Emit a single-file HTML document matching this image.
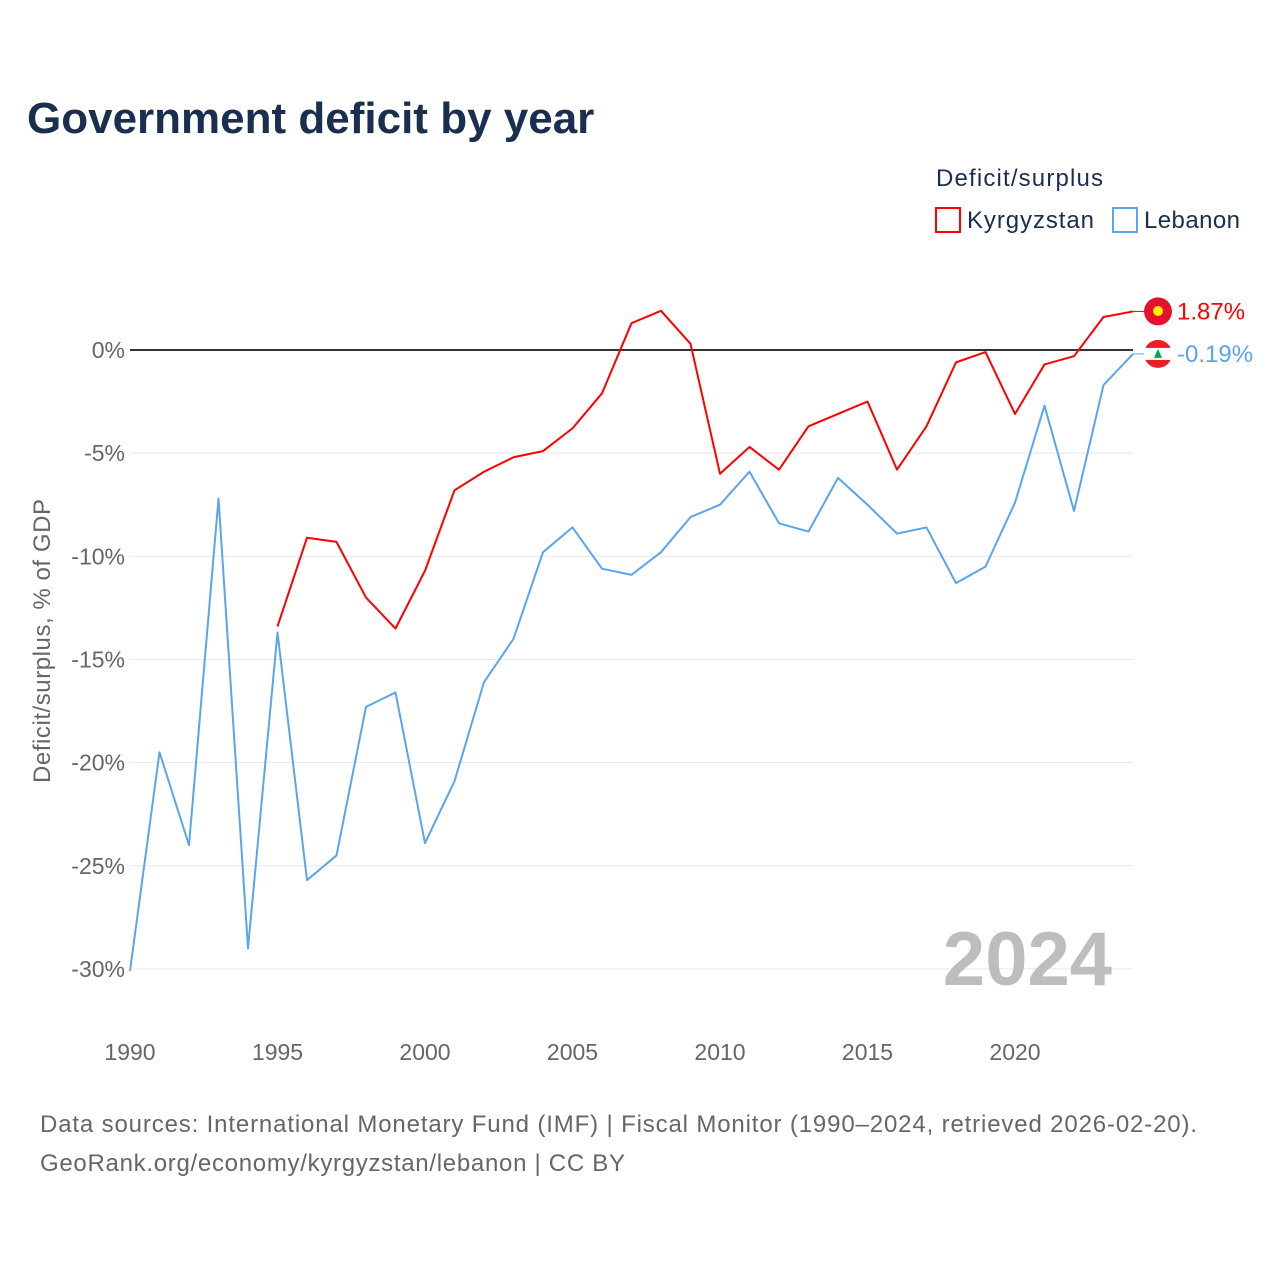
<!DOCTYPE html>
<html><head><meta charset="utf-8"><style>
body{margin:0;background:#fff;font-family:"Liberation Sans",sans-serif}
svg text{font-family:"Liberation Sans",sans-serif}
</style></head><body>
<svg id="chart" width="1280" height="1280" xmlns="http://www.w3.org/2000/svg">
<text x="27" y="133" font-size="44" font-weight="bold" fill="#1a2e4f">Government deficit by year</text>
<text x="936" y="186" font-size="24" fill="#1a2e4f" textLength="167">Deficit/surplus</text>
<g><rect x="936" y="208" width="24" height="24" fill="none" stroke="#f00" stroke-width="2"/><text x="967" y="228" font-size="24" fill="#1a2e4f" textLength="127">Kyrgyzstan</text></g>
<g><rect x="1113" y="208" width="24" height="24" fill="none" stroke="#5aa5ec" stroke-width="2"/><text x="1144" y="228" font-size="24" fill="#1a2e4f" textLength="96">Lebanon</text></g>
<g id="grid"></g>
<g id="series"></g>
<text x="1112" y="985" font-size="76" font-weight="bold" fill="#bdbdbd" text-anchor="end">2024</text>
<text transform="translate(50,641) rotate(-90)" font-size="24" fill="#666" text-anchor="middle" textLength="284">Deficit/surplus, % of GDP</text>
<text x="40" y="1132" font-size="24" fill="#666" textLength="1157">Data sources: International Monetary Fund (IMF) | Fiscal Monitor (1990–2024, retrieved 2026-02-20).</text>
<text x="40" y="1171" font-size="24" fill="#666" textLength="585">GeoRank.org/economy/kyrgyzstan/lebanon | CC BY</text>
</svg>
<script>
const yTicks=[0,-5,-10,-15,-20,-25,-30];
const xTicks=[1990,1995,2000,2005,2010,2015,2020];
const kgYears=[1995,1996,1997,1998,1999,2000,2001,2002,2003,2004,2005,2006,2007,2008,2009,2010,2011,2012,2013,2014,2015,2016,2017,2018,2019,2020,2021,2022,2023,2024];
const kgValues=[-13.4,-9.1,-9.3,-12.0,-13.5,-10.7,-6.8,-5.9,-5.2,-4.9,-3.8,-2.1,1.3,1.9,0.3,-6.0,-4.7,-5.8,-3.7,-3.1,-2.5,-5.8,-3.7,-0.6,-0.1,-3.1,-0.7,-0.3,1.6,1.87];
const lbYears=[1990,1991,1992,1993,1994,1995,1996,1997,1998,1999,2000,2001,2002,2003,2004,2005,2006,2007,2008,2009,2010,2011,2012,2013,2014,2015,2016,2017,2018,2019,2020,2021,2022,2023,2024];
const lbValues=[-30.1,-19.5,-24.0,-7.2,-29.0,-13.7,-25.7,-24.5,-17.3,-16.6,-23.9,-20.9,-16.1,-14.0,-9.8,-8.6,-10.6,-10.9,-9.8,-8.1,-7.5,-5.9,-8.4,-8.8,-6.2,-7.5,-8.9,-8.6,-11.3,-10.5,-7.4,-2.7,-7.8,-1.7,-0.19];
const NS='http://www.w3.org/2000/svg';
const X=y=>130+(y-1990)*29.5;
const Y=v=>350-v*20.63;
function mk(t,a,p){const e=document.createElementNS(NS,t);for(const k in a)e.setAttribute(k,a[k]);p.appendChild(e);return e;}
const g=document.getElementById('grid');
yTicks.forEach(v=>{
 const l=mk('line',{x1:130,x2:1133,y1:Y(v),y2:Y(v),stroke:v===0?'#333':'#e8e8e8','stroke-width':v===0?2:1},g);
 
 
 const t=mk('text',{x:125,y:Y(v)+8,'font-size':23,fill:'#666','text-anchor':'end'},g);t.textContent=v+'%';
 
 
});
xTicks.forEach(y=>{
 const t=mk('text',{x:X(y),y:1060,'font-size':23,fill:'#666','text-anchor':'middle'},g);t.textContent=y;
 
 
});
const s=document.getElementById('series');
function line(ys,vs,c,name){
 const p=mk('polyline',{points:ys.map((y,i)=>X(y)+','+Y(vs[i])).join(' '),fill:'none',stroke:c,'stroke-width':2,'stroke-linejoin':'round'},s);
 
 
}
line(kgYears,kgValues,'#f00','kyrgyzstan-line');
line(lbYears,lbValues,'#5aa5ec','lebanon-line');
function endLabel(v,c,txt,name,flag,dy){
 const yy=Y(v)+dy;
 mk('line',{x1:1133,y1:Y(v),x2:1145,y2:yy,stroke:c,'stroke-width':1},s);
 const f=mk('circle',{cx:1158,cy:yy,r:14,fill:flag},s);
 
 
 const t=mk('text',{x:1177,y:yy+8,'font-size':24,fill:c},s);t.textContent=txt;
 
 
}
endLabel(kgValues[kgValues.length-1],'#f00','1.87%','kyrgyzstan','#e8112d',0);
endLabel(lbValues[lbValues.length-1],'#5aa5ec','-0.19%','lebanon','#ee1c25',0);
mk('circle',{cx:1158,cy:311,r:5,fill:'#ffef00'},s);
mk('rect',{x:1144,y:Y(-0.19)-6,width:28,height:12,fill:'#fff'},s);
mk('polygon',{points:`1158,${Y(-0.19)-5} 1154,${Y(-0.19)+4} 1162,${Y(-0.19)+4}`,fill:'#00a651'},s);
</script>
</body></html>
